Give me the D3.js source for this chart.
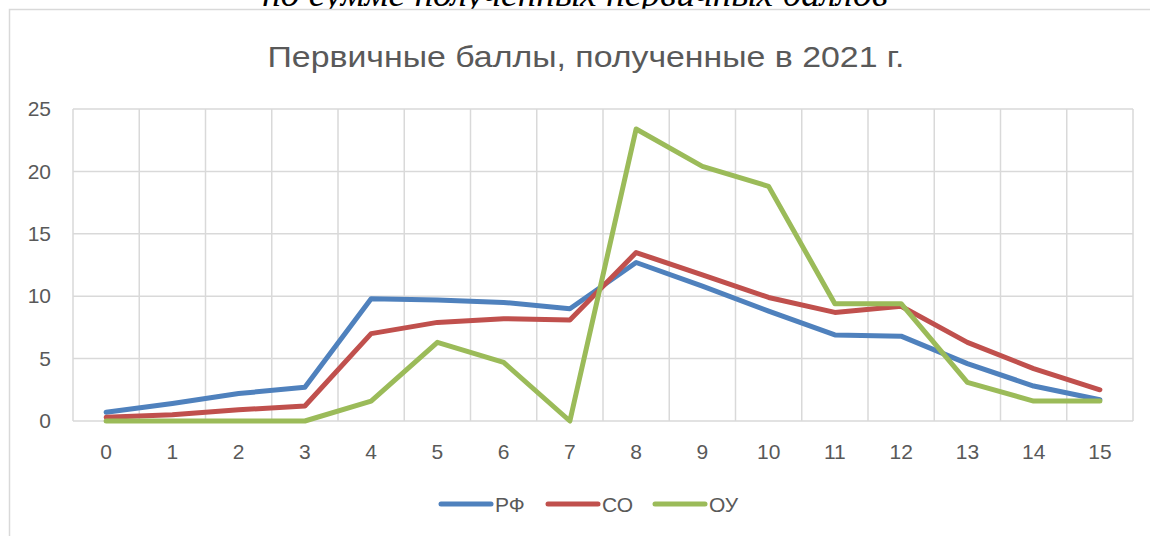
<!DOCTYPE html>
<html>
<head>
<meta charset="utf-8">
<script src="https://cdn.jsdelivr.net/npm/d3@7"></script>
<style>
  body { margin: 0; background: #fff; overflow: hidden; }
  svg { display: block; }
</style>
</head>
<body>
<div id="chart"></div>
<script>
// Data
const categories = d3.range(0, 16);
const seriesNames = ['РФ', 'СО', 'ОУ'];
const seriesColors = ['#4F81BD', '#C0504D', '#9BBB59'];
const rfValues = [0.7, 1.4, 2.2, 2.7, 9.8, 9.7, 9.5, 9.0, 12.7, 10.8, 8.8, 6.9, 6.8, 4.6, 2.8, 1.7];
const soValues = [0.3, 0.5, 0.9, 1.2, 7.0, 7.9, 8.2, 8.1, 13.5, 11.7, 9.9, 8.7, 9.2, 6.3, 4.2, 2.5];
const ouValues = [0, 0, 0, 0, 1.6, 6.3, 4.7, 0, 23.4, 20.4, 18.8, 9.4, 9.4, 3.1, 1.6, 1.6];
const yTicks = [0, 5, 10, 15, 20, 25];

const width = 1150, height = 536;
const plot = { left: 73, right: 1133, top: 109, bottom: 421 };
const textColor = '#595959';
const gridColor = '#d9d9d9';
const font = 'Liberation Sans';

const svg = d3.select('#chart').append('svg')
    .attr('width', width)
    .attr('height', height);

// caption above the chart, cut by the page edge as in the source
svg.append('text')
    .attr('x', 575)
    .attr('y', 6)
    .attr('text-anchor', 'middle')
    .attr('font-family', 'Liberation Serif')
    .attr('font-style', 'italic')
    .attr('font-size', 36)
    .attr('textLength', 626)
    .attr('lengthAdjust', 'spacingAndGlyphs')
    .attr('fill', '#000')
    .text('по сумме полученных первичных баллов');

// chart frame
svg.append('rect')
    .attr('x', 9.5)
    .attr('y', 9.5)
    .attr('width', 1200)
    .attr('height', 600)
    .attr('fill', '#fff')
    .attr('stroke', gridColor)
    .attr('stroke-width', 1.5);

// title
svg.append('text')
    .attr('x', 586)
    .attr('y', 67)
    .attr('text-anchor', 'middle')
    .attr('font-family', font)
    .attr('font-size', 30)
    .attr('textLength', 637)
    .attr('lengthAdjust', 'spacingAndGlyphs')
    .attr('fill', textColor)
    .text('Первичные баллы, полученные в 2021 г.');

// scales
const x = d3.scaleBand()
    .domain(categories)
    .range([plot.left, plot.right]);

const y = d3.scaleLinear()
    .domain([0, 25])
    .range([plot.bottom, plot.top]);

const g = svg.append('g');

// horizontal gridlines
g.append('g')
    .selectAll('line')
    .data(yTicks)
    .enter().append('line')
    .attr('x1', plot.left)
    .attr('x2', plot.right)
    .attr('y1', d => y(d))
    .attr('y2', d => y(d))
    .attr('stroke', gridColor)
    .attr('stroke-width', 1.5);

// vertical gridlines at category boundaries
const bounds = categories.map(c => x(c)).concat([x(categories[categories.length - 1]) + x.bandwidth()]);
g.append('g')
    .selectAll('line')
    .data(bounds)
    .enter().append('line')
    .attr('x1', d => d)
    .attr('x2', d => d)
    .attr('y1', plot.top)
    .attr('y2', plot.bottom)
    .attr('stroke', gridColor)
    .attr('stroke-width', 1.5);

// y axis labels
const yAxis = d3.axisLeft(y).tickValues(yTicks).tickSize(0).tickPadding(0);
const yG = svg.append('g')
    .attr('transform', `translate(${plot.left - 22},0)`)
    .call(yAxis);
yG.select('.domain').remove();
yG.selectAll('text')
    .attr('font-family', font)
    .attr('font-size', 21)
    .attr('fill', textColor);

// x axis labels
const xAxis = d3.axisBottom(x).tickSize(0).tickPadding(0);
const xG = svg.append('g')
    .attr('transform', `translate(0,${plot.bottom + 23})`)
    .call(xAxis);
xG.select('.domain').remove();
xG.selectAll('text')
    .attr('font-family', font)
    .attr('font-size', 21)
    .attr('fill', textColor);

// lines
const allSeries = [rfValues, soValues, ouValues];
const line = d3.line()
    .x((d, i) => x(categories[i]) + x.bandwidth() / 2)
    .y(d => y(d));

svg.append('g')
    .selectAll('path')
    .data(allSeries)
    .enter().append('path')
    .attr('d', d => line(d))
    .attr('fill', 'none')
    .attr('stroke', (d, i) => seriesColors[i])
    .attr('stroke-width', 5)
    .attr('stroke-linejoin', 'round')
    .attr('stroke-linecap', 'round');

// legend
const legendX = [441, 548, 655];
const legend = svg.append('g')
    .selectAll('g')
    .data(seriesNames)
    .enter().append('g')
    .attr('transform', (d, i) => `translate(${legendX[i]},504)`);

legend.append('line')
    .attr('x1', 0)
    .attr('x2', 50)
    .attr('stroke', (d, i) => seriesColors[i])
    .attr('stroke-width', 5)
    .attr('stroke-linecap', 'round');

legend.append('text')
    .attr('x', 54)
    .attr('y', 8)
    .attr('font-family', font)
    .attr('font-size', 21)
    .attr('fill', textColor)
    .text(d => d);
</script>
</body>
</html>
